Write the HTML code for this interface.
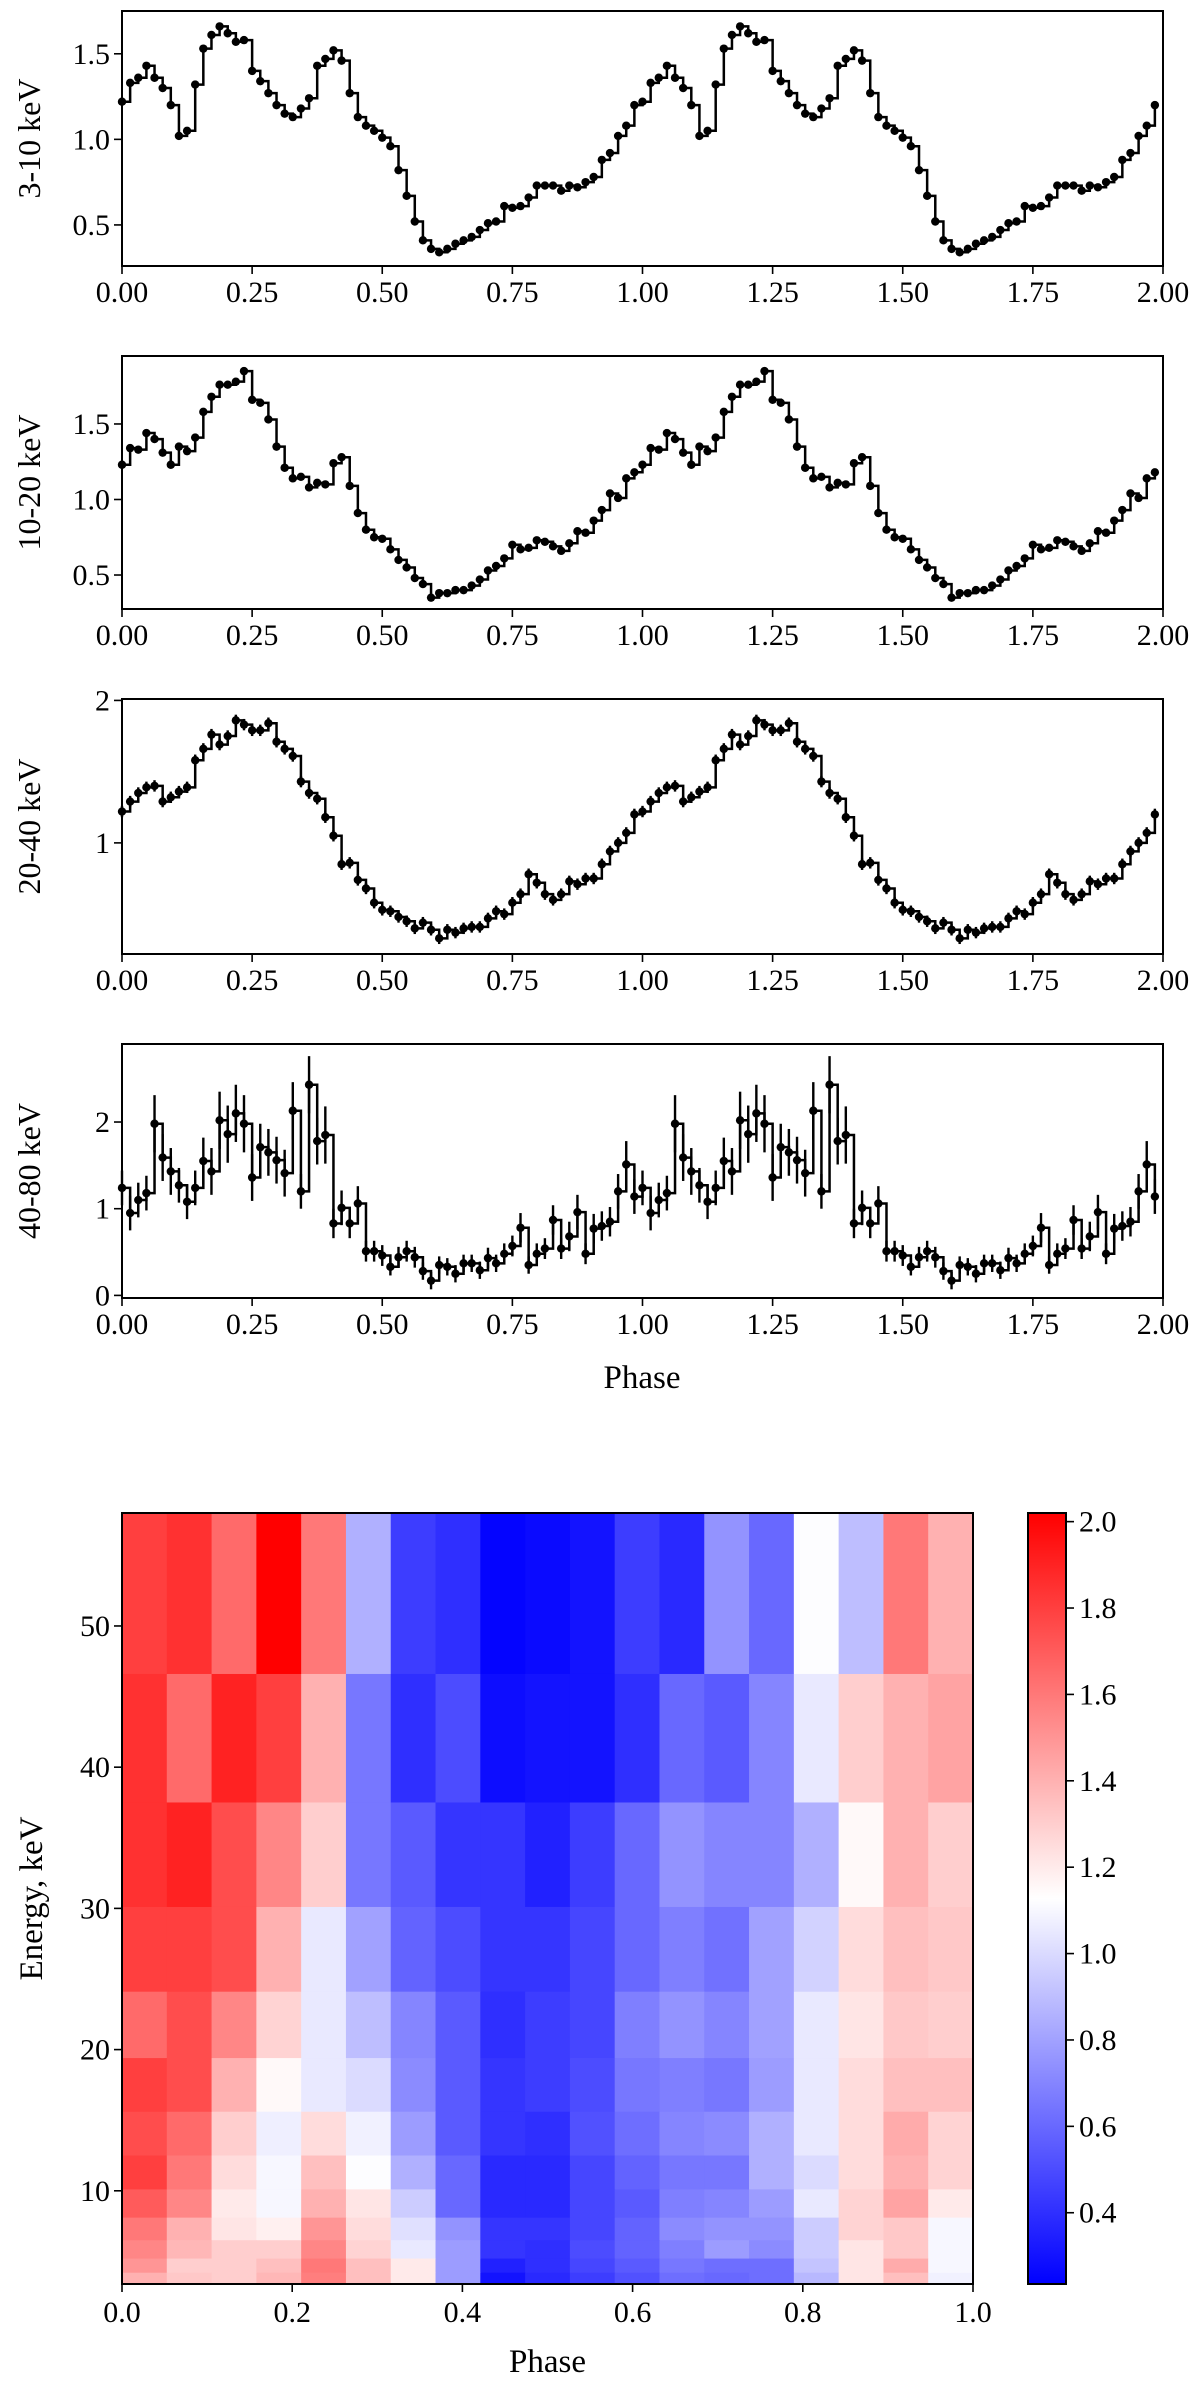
<!DOCTYPE html>
<html><head><meta charset="utf-8">
<style>
html,body{margin:0;padding:0;background:#fff;}
svg{display:block;font-family:"Liberation Serif","DejaVu Serif",serif;}
</style></head>
<body>
<svg id="fig" width="1200" height="2394" viewBox="0 0 1200 2394" xmlns="http://www.w3.org/2000/svg"></svg>
<script>
// ---- light-curve data (one period, 64 phase bins, repeated for phase 1-2) ----
const lc1 = [1.22,1.33,1.36,1.43,1.36,1.30,1.20,1.02,1.05,1.32,1.53,1.61,1.66,1.62,1.57,1.58,1.40,1.34,1.27,1.20,1.15,1.13,1.18,1.24,1.43,1.47,1.52,1.46,1.27,1.13,1.08,1.05,1.01,0.96,0.82,0.67,0.52,0.41,0.36,0.34,0.36,0.39,0.41,0.43,0.47,0.51,0.52,0.61,0.60,0.61,0.66,0.73,0.73,0.73,0.70,0.73,0.72,0.75,0.78,0.88,0.92,1.02,1.08,1.20];
const lc2 = [1.23,1.34,1.33,1.44,1.40,1.31,1.23,1.35,1.32,1.41,1.58,1.68,1.76,1.76,1.78,1.85,1.66,1.64,1.53,1.35,1.21,1.14,1.15,1.08,1.11,1.10,1.24,1.28,1.09,0.91,0.80,0.75,0.74,0.67,0.60,0.55,0.48,0.44,0.35,0.38,0.38,0.40,0.40,0.43,0.47,0.53,0.56,0.61,0.70,0.67,0.68,0.73,0.72,0.69,0.66,0.71,0.79,0.78,0.86,0.93,1.04,1.01,1.14,1.18];
const lc3 = [1.22,1.29,1.35,1.39,1.40,1.29,1.32,1.36,1.39,1.58,1.66,1.76,1.69,1.75,1.86,1.83,1.79,1.79,1.84,1.71,1.66,1.61,1.43,1.35,1.31,1.18,1.05,0.85,0.86,0.74,0.68,0.58,0.53,0.52,0.48,0.45,0.40,0.44,0.39,0.33,0.39,0.37,0.40,0.41,0.41,0.47,0.52,0.50,0.58,0.64,0.78,0.72,0.64,0.60,0.64,0.73,0.71,0.75,0.75,0.85,0.94,1.00,1.07,1.20];
const err3 = 0.04;
const lc4 = [1.24,0.95,1.10,1.18,1.98,1.59,1.43,1.27,1.08,1.24,1.55,1.43,2.02,1.86,2.10,1.98,1.36,1.71,1.65,1.56,1.41,2.13,1.20,2.43,1.78,1.85,0.83,1.01,0.83,1.06,0.51,0.51,0.46,0.33,0.44,0.51,0.44,0.28,0.17,0.35,0.33,0.25,0.37,0.37,0.29,0.43,0.37,0.48,0.57,0.78,0.35,0.48,0.54,0.87,0.54,0.68,0.96,0.48,0.77,0.80,0.85,1.20,1.51,1.14];
const err4 = [0.2,0.2,0.2,0.2,0.33,0.27,0.27,0.2,0.2,0.2,0.27,0.27,0.33,0.33,0.33,0.33,0.27,0.27,0.27,0.27,0.27,0.33,0.2,0.33,0.27,0.33,0.17,0.2,0.17,0.2,0.12,0.12,0.12,0.1,0.12,0.12,0.12,0.1,0.1,0.1,0.1,0.1,0.1,0.1,0.1,0.12,0.1,0.12,0.12,0.17,0.1,0.12,0.12,0.17,0.12,0.17,0.2,0.12,0.17,0.17,0.17,0.2,0.27,0.2];
const phaseTicks = [0,0.25,0.5,0.75,1.0,1.25,1.5,1.75,2.0];
const phaseTickLabels = ["0.00","0.25","0.50","0.75","1.00","1.25","1.50","1.75","2.00"];
const yTicks1 = [0.5,1.0,1.5], yTickLabels1 = ["0.5","1.0","1.5"];
const yTicks2 = [0.5,1.0,1.5], yTickLabels2 = ["0.5","1.0","1.5"];
const yTicks3 = [1,2], yTickLabels3 = ["1","2"];
const yTicks4 = [0,1,2], yTickLabels4 = ["0","1","2"];
const bandLabels = ["3-10 keV","10-20 keV","20-40 keV","40-80 keV"];

// ---- heatmap data: rows top (high energy) to bottom, 19 phase bins ----
const energyEdges = [58,46.6,37.5,30.1,24.1,19.4,15.6,12.5,10.1,8.1,6.5,5.2,4.2,3.4];
const heat = [
 [1.8,1.85,1.65,2.02,1.6,0.85,0.45,0.4,0.25,0.27,0.3,0.45,0.38,0.75,0.6,1.12,0.9,1.6,1.4],
 [1.85,1.65,1.9,1.8,1.4,0.65,0.4,0.5,0.28,0.3,0.3,0.4,0.6,0.55,0.7,1.05,1.3,1.4,1.45],
 [1.85,1.9,1.75,1.55,1.3,0.65,0.55,0.42,0.42,0.35,0.45,0.6,0.75,0.7,0.7,0.85,1.15,1.4,1.3],
 [1.8,1.8,1.75,1.4,1.05,0.8,0.58,0.5,0.42,0.42,0.48,0.6,0.68,0.63,0.8,0.97,1.25,1.35,1.32],
 [1.65,1.75,1.55,1.28,1.05,0.9,0.7,0.55,0.4,0.45,0.48,0.68,0.75,0.7,0.8,1.05,1.22,1.32,1.3],
 [1.8,1.75,1.4,1.15,1.05,1.0,0.72,0.55,0.42,0.45,0.5,0.65,0.68,0.65,0.78,1.05,1.25,1.35,1.35],
 [1.75,1.65,1.3,1.07,1.25,1.08,0.78,0.55,0.42,0.4,0.52,0.62,0.7,0.72,0.85,1.05,1.25,1.42,1.28],
 [1.8,1.6,1.25,1.1,1.35,1.12,0.85,0.6,0.38,0.38,0.48,0.58,0.65,0.65,0.85,1.0,1.25,1.4,1.28],
 [1.7,1.55,1.2,1.1,1.4,1.22,0.95,0.6,0.38,0.38,0.48,0.55,0.68,0.7,0.78,1.05,1.28,1.45,1.2],
 [1.6,1.4,1.22,1.18,1.5,1.25,1.02,0.75,0.42,0.42,0.48,0.58,0.72,0.75,0.75,0.95,1.28,1.32,1.1],
 [1.55,1.38,1.3,1.3,1.55,1.28,1.05,0.78,0.42,0.4,0.5,0.58,0.68,0.78,0.72,0.95,1.22,1.32,1.1],
 [1.5,1.3,1.3,1.35,1.6,1.35,1.2,0.78,0.35,0.4,0.48,0.55,0.65,0.62,0.62,0.92,1.22,1.42,1.1],
 [1.4,1.32,1.3,1.38,1.58,1.35,1.2,0.78,0.3,0.38,0.45,0.52,0.62,0.6,0.62,0.88,1.22,1.35,1.08]
];
const hxTicks = [0,0.2,0.4,0.6,0.8,1.0], hxTickLabels = ["0.0","0.2","0.4","0.6","0.8","1.0"];
const hyTicks = [10,20,30,40,50], hyTickLabels = ["10","20","30","40","50"];
const cbTicks = [0.4,0.6,0.8,1.0,1.2,1.4,1.6,1.8,2.0], cbTickLabels = ["0.4","0.6","0.8","1.0","1.2","1.4","1.6","1.8","2.0"];
const vmin = 0.235, vmax = 2.02;

const NS = "http://www.w3.org/2000/svg";
const svg = document.getElementById('fig');
function mk(tag, attrs, parent){
  const e = document.createElementNS(NS, tag);
  for (const k in attrs) e.setAttribute(k, attrs[k]);
  (parent||svg).appendChild(e);
  return e;
}
const FS = 30;

const panels = [
 {data:lc1, err:null, top:11, bot:266, y0:0.26, y1:1.75, ticks:yTicks1, labels:yTickLabels1},
 {data:lc2, err:null, top:356, bot:609, y0:0.275, y1:1.95, ticks:yTicks2, labels:yTickLabels2},
 {data:lc3, err:err3, top:699, bot:954, y0:0.22, y1:2.01, ticks:yTicks3, labels:yTickLabels3},
 {data:lc4, err:err4, top:1044, bot:1298, y0:-0.03, y1:2.9, ticks:yTicks4, labels:yTickLabels4}
];
const L = 122, R = 1163;
panels.forEach((p, pi) => {
  const g = mk('g', {});
  
  
  const X = ph => L + (ph/2.0)*(R-L);
  const Y = v => p.bot - (v - p.y0)/(p.y1 - p.y0)*(p.bot - p.top);
  const n = p.data.length;
  let pts = [];
  for (let c = 0; c < 2; c++) {
    for (let i = 0; i < n; i++) {
      const ph = c + i/n;
      const y = Y(p.data[i]);
      pts.push(X(ph)+','+y);
      if (!(c===1 && i===n-1)) pts.push(X(ph+1/n)+','+y);
    }
  }
  const line = mk('polyline', {points:pts.join(' '), fill:'none', stroke:'#000', 'stroke-width':2.5}, g);
  
  
  for (let c = 0; c < 2; c++) {
    for (let i = 0; i < n; i++) {
      const cx = X(c + i/n), v = p.data[i];
      if (p.err !== null) {
        const e = Array.isArray(p.err) ? p.err[i] : p.err;
        const eb = mk('line', {x1:cx, x2:cx, y1:Y(v-e), y2:Y(v+e), stroke:'#000', 'stroke-width':2.4}, g);
        
        
      }
      const dot = mk('circle', {cx:cx, cy:Y(v), r:4.2, fill:'#000'}, g);
      
      
    }
  }
  const frame = mk('rect', {x:L, y:p.top, width:R-L, height:p.bot-p.top, fill:'none', stroke:'#000', 'stroke-width':2}, g);
  
  
  phaseTicks.forEach((t, k) => {
    mk('line', {x1:X(t), x2:X(t), y1:p.bot, y2:p.bot+8, stroke:'#000', 'stroke-width':1.6}, g);
    const tx = mk('text', {x:X(t), y:p.bot+36, 'font-size':FS, 'text-anchor':'middle'}, g);
    tx.textContent = phaseTickLabels[k];
    
    
  });
  p.ticks.forEach((t, k) => {
    mk('line', {x1:L-8, x2:L, y1:Y(t), y2:Y(t), stroke:'#000', 'stroke-width':1.6}, g);
    const tx = mk('text', {x:L-12, y:Y(t)+10, 'font-size':FS, 'text-anchor':'end'}, g);
    tx.textContent = p.labels[k];
    
    
  });
  const cy = (p.top + p.bot)/2;
  const yl = mk('text', {x:0, y:0, 'font-size':32, 'text-anchor':'middle', transform:'translate(40,'+cy+') rotate(-90)'}, g);
  yl.textContent = bandLabels[pi];
  
  
});
const xl = mk('text', {x:642, y:1388, 'font-size':33, 'text-anchor':'middle'});
xl.textContent = 'Phase';



// ---- heatmap ----
function bwr(v){
  let t = (v - vmin)/(vmax - vmin); t = Math.max(0, Math.min(1, t));
  let r,g,b;
  if (t < 0.5) { r = g = 2*t; b = 1; } else { r = 1; g = b = 2*(1-t); }
  return 'rgb('+Math.round(r*255)+','+Math.round(g*255)+','+Math.round(b*255)+')';
}
const HL = 122, HR = 973, HT = 1513, HB = 2284, E0 = 3.4, E1 = 58;
const HX = ph => HL + ph*(HR-HL);
const HY = e => HB - (e - E0)/(E1 - E0)*(HB - HT);
const hg = mk('g', {});


const nc = heat[0].length;
heat.forEach((row, ri) => {
  row.forEach((v, ci) => {
    const x0 = HX(ci/nc), x1 = HX((ci+1)/nc);
    const y0 = HY(energyEdges[ri]), y1 = HY(energyEdges[ri+1]);
    const c = mk('rect', {x:x0, y:y0, width:x1-x0+0.5, height:y1-y0+0.5, fill:bwr(v)}, hg);
    
    
  });
});
const hf = mk('rect', {x:HL, y:HT, width:HR-HL, height:HB-HT, fill:'none', stroke:'#000', 'stroke-width':2});


hxTicks.forEach((t, k) => {
  mk('line', {x1:HX(t), x2:HX(t), y1:HB, y2:HB+8, stroke:'#000', 'stroke-width':1.6});
  const tx = mk('text', {x:HX(t), y:HB+38, 'font-size':FS, 'text-anchor':'middle'});
  tx.textContent = hxTickLabels[k];
  
  
});
hyTicks.forEach((t, k) => {
  mk('line', {x1:HL-8, x2:HL, y1:HY(t), y2:HY(t), stroke:'#000', 'stroke-width':1.6});
  const tx = mk('text', {x:HL-12, y:HY(t)+10, 'font-size':FS, 'text-anchor':'end'});
  tx.textContent = hyTickLabels[k];
  
  
});
const hxl = mk('text', {x:(HL+HR)/2, y:2372, 'font-size':33, 'text-anchor':'middle'});
hxl.textContent = 'Phase';


const hyl = mk('text', {x:0, y:0, 'font-size':33, 'text-anchor':'middle', transform:'translate(42,'+((HT+HB)/2)+') rotate(-90)'});
hyl.textContent = 'Energy, keV';



// ---- colorbar ----
const CL = 1028, CR = 1066;
const CY = v => HB - (v - vmin)/(vmax - vmin)*(HB - HT);
const defs = mk('defs', {});
const grad = mk('linearGradient', {id:'cbg', x1:0, y1:1, x2:0, y2:0}, defs);
mk('stop', {offset:'0', 'stop-color':'rgb(0,0,255)'}, grad);
mk('stop', {offset:'0.5', 'stop-color':'rgb(255,255,255)'}, grad);
mk('stop', {offset:'1', 'stop-color':'rgb(255,0,0)'}, grad);
const cb = mk('rect', {x:CL, y:HT, width:CR-CL, height:HB-HT, fill:'url(#cbg)', stroke:'#000', 'stroke-width':2});


cbTicks.forEach((t, k) => {
  mk('line', {x1:CR, x2:CR+8, y1:CY(t), y2:CY(t), stroke:'#000', 'stroke-width':1.6});
  const tx = mk('text', {x:CR+13, y:CY(t)+10, 'font-size':FS, 'text-anchor':'start'});
  tx.textContent = cbTickLabels[k];
  
  
});
</script>
</body></html>
